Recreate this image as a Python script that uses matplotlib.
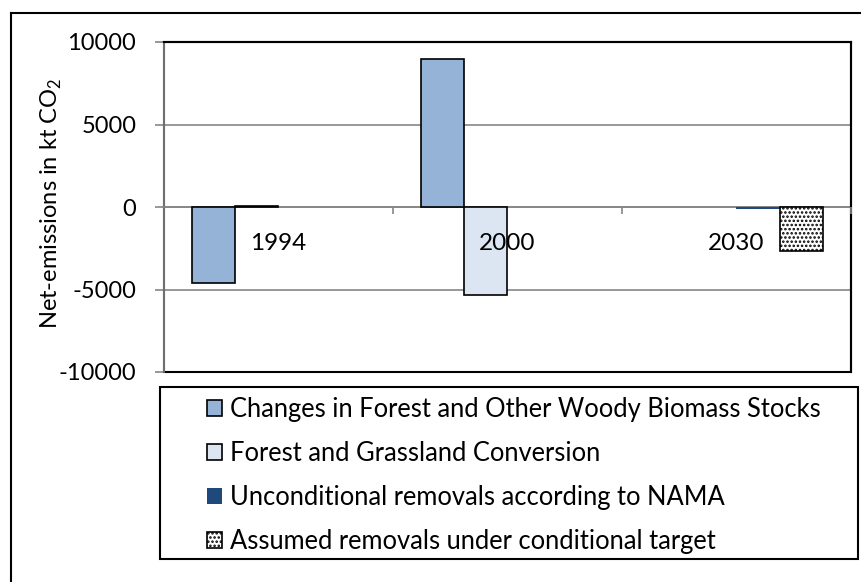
import numpy as np
import matplotlib
matplotlib.use('Agg')
import matplotlib.pyplot as plt
from matplotlib.patches import Rectangle, Patch
from matplotlib.lines import Line2D

plt.rcParams['font.family'] = ['Lato', 'DejaVu Sans']
plt.rcParams['mathtext.fontset'] = 'custom'
plt.rcParams['mathtext.rm'] = 'Lato'
plt.rcParams['hatch.linewidth'] = 1.2

# datos
years = ['1994', '2000', '2030']
forest_stocks = [-4600, 8950, np.nan]
grassland_conv = [60, -5330, np.nan]
unconditional = [np.nan, np.nan, -100]
conditional = [np.nan, np.nan, -2650]

labels = ['Changes in Forest and Other Woody Biomass Stocks',
          'Forest and Grassland Conversion',
          'Unconditional removals according to NAMA',
          'Assumed removals under conditional target']
y_ticks = [-10000, -5000, 0, 5000, 10000]

W, H = 862, 582
fs = 17
fs_leg = 18.4
grey = '#868686'

fig = plt.figure(figsize=(W / 100, H / 100), dpi=100)
ax = fig.add_axes([164 / W, 1 - 372 / H, (851 - 164) / W, (372 - 42) / H])

x = np.arange(len(years))
bw = 0.188
offs = [-1.5 * bw, -0.5 * bw, 0.5 * bw, 1.5 * bw]
ax.bar(x + offs[0], forest_stocks, bw, color='#95B3D7', edgecolor='black', linewidth=1.2, zorder=3)
ax.bar(x + offs[1], grassland_conv, bw, color='#DCE6F2', edgecolor='black', linewidth=1.2, zorder=3)
ax.bar(x + offs[2], unconditional, bw, color='#1F497D', linewidth=0, zorder=3)
ax.bar(x + offs[3], conditional, bw, color='white', edgecolor='black', hatch='....', linewidth=1.2, zorder=3)

ax.set_xlim(-0.5, 2.5)
ax.set_ylim(-10000, 10000)
ax.set_yticks(y_ticks)
ax.set_yticklabels([str(v) for v in y_ticks])
ax.yaxis.grid(True, color=grey, linewidth=1.2, zorder=0)
ax.set_axisbelow(True)
ax.xaxis.set_zorder(5)  # etiquetas de años encima de las barras

# eje x en el cero
ax.spines['bottom'].set_position(('data', 0))
ax.spines['bottom'].set_color(grey)
ax.spines['bottom'].set_linewidth(1.2)
ax.spines['bottom'].set_zorder(2)
ax.spines['left'].set_color(grey)
ax.spines['left'].set_linewidth(1.2)
for s in ['top', 'right']:
    ax.spines[s].set_color('black')
    ax.spines[s].set_linewidth(1.5)
ax.add_patch(Rectangle((0, 0), 1, 1, transform=ax.transAxes, fill=False,
                       edgecolor='black', linewidth=1.5, zorder=1, clip_on=False))

ax.set_xticks(x)
ax.set_xticklabels(years)
ax.set_xticks([0.5, 1.5, 2.5], minor=True)
ax.tick_params(axis='x', which='major', length=0, pad=19, labelsize=17.5)
ax.tick_params(axis='x', which='minor', length=5, width=1.2, color=grey, direction='out')
ax.tick_params(axis='y', length=6.5, width=1.2, color=grey, pad=13.5, labelsize=fs)

ax.set_ylabel(r'Net-emissions in kt CO$_\mathrm{2}$', fontsize=fs)
ax.yaxis.set_label_coords(-0.1456, 0.512)

# leyenda
handles = [Patch(facecolor='#95B3D7', edgecolor='black', linewidth=1.2),
           Patch(facecolor='#DCE6F2', edgecolor='black', linewidth=1.2),
           Patch(facecolor='#1F497D', linewidth=0),
           Patch(facecolor='white', edgecolor='black', hatch='....', linewidth=1.2)]
fig.legend(handles, labels, loc='upper left', bbox_to_anchor=(207 / W, 1 - 397 / H),
           frameon=False, fontsize=fs_leg, handlelength=0.585, handleheight=0.585,
           handletextpad=0.31, labelspacing=0.75, borderpad=0, borderaxespad=0)
fig.add_artist(Rectangle((160 / W, 1 - 559 / H), (858 - 160) / W, (559 - 387) / H,
                         transform=fig.transFigure, fill=False, edgecolor='black', linewidth=1.5))

# marco exterior
fig.add_artist(Line2D([11 / W, 11 / W], [0, 1 - 13 / H], transform=fig.transFigure, color='black', linewidth=1.5))
fig.add_artist(Line2D([11 / W, 1], [1 - 13 / H, 1 - 13 / H], transform=fig.transFigure, color='black', linewidth=1.5))

fig.savefig('out.png', dpi=100)
